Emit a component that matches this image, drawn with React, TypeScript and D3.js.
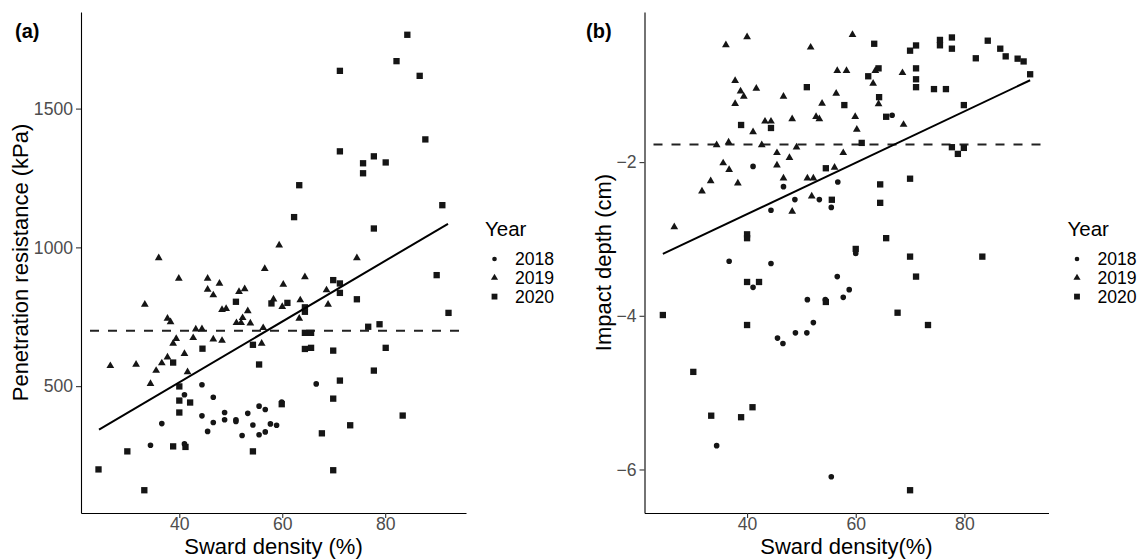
import React, { useEffect, useRef } from 'react';
import * as d3 from 'd3';

type Pt = [number, number];

// (a) sward density (%) vs penetration resistance (kPa)
const resist2018: Pt[] = [
  [44.4, 505], [41.0, 469], [46.6, 460], [48.8, 405], [44.4, 393], [46.6, 369], [36.6, 365],
  [48.8, 379], [51.0, 379], [51.0, 373], [53.3, 402], [55.5, 428], [56.7, 416], [45.5, 337],
  [54.3, 360], [57.7, 364], [58.9, 359], [52.2, 322], [55.5, 325], [56.7, 335], [59.9, 443],
  [34.4, 287], [41.0, 292], [66.6, 508]
];
const resist2019: Pt[] = [
  [36.0, 962], [39.9, 888], [45.5, 888], [47.8, 870], [45.5, 848], [46.6, 828], [33.3, 794],
  [51.6, 840], [52.7, 850], [48.3, 775], [49.1, 779], [53.3, 771], [52.3, 746], [51.1, 728],
  [52.0, 728], [53.8, 727], [37.7, 744], [38.3, 731], [43.2, 705], [44.4, 706], [56.3, 710],
  [56.6, 923], [59.4, 1008], [60.2, 866], [58.3, 813], [60.0, 786], [63.5, 810], [64.4, 893],
  [63.3, 744], [39.4, 671], [38.8, 654], [42.7, 674], [46.6, 669], [48.3, 664], [56.0, 654],
  [41.0, 617], [37.7, 604], [26.6, 573], [31.6, 578], [36.6, 583], [35.5, 556], [41.6, 551],
  [34.4, 509], [74.5, 962], [68.6, 846], [68.9, 794]
];
const resist2020: Pt[] = [
  [84.3, 1766], [82.2, 1671], [71.2, 1636], [86.7, 1618], [87.8, 1389], [71.2, 1346], [77.8, 1328],
  [75.7, 1303], [80.1, 1306], [75.7, 1267], [63.3, 1224], [62.3, 1109], [91.1, 1152], [77.8, 1068],
  [90.0, 900], [69.9, 882], [71.2, 870], [71.2, 836], [74.5, 813], [61.0, 800], [64.4, 784],
  [64.4, 768], [92.3, 764], [76.7, 714], [78.9, 723], [64.4, 692], [65.6, 692], [64.4, 634],
  [65.6, 638], [69.9, 628], [80.1, 638], [77.8, 556], [71.2, 520], [69.9, 455], [83.4, 394],
  [73.2, 359], [67.7, 330], [69.9, 197], [51.0, 804], [57.9, 798], [44.5, 635], [54.3, 649],
  [38.8, 585], [55.5, 578], [40.0, 499], [40.0, 448], [42.1, 441], [40.0, 405], [59.9, 435],
  [38.8, 283], [41.2, 281], [29.9, 265], [54.3, 265], [24.3, 200], [33.2, 125]
];
const resistFit: Pt[] = [[24.4, 343], [92.2, 1085]];
const resistThreshold = 700;

// (b) sward density (%) vs impact depth (cm)
const depth2018: Pt[] = [
  [41.1, -2.056], [46.7, -2.32], [56.7, -2.259], [48.8, -2.488], [53.3, -2.488], [55.5, -2.59],
  [44.4, -2.626], [36.7, -3.29], [44.4, -3.32], [60.0, -3.19], [56.6, -3.49], [41.1, -3.63],
  [58.8, -3.66], [57.7, -3.76], [51.1, -3.79], [54.4, -3.79], [52.2, -4.088], [48.9, -4.222],
  [51.0, -4.222], [45.6, -4.29], [46.6, -4.36], [34.4, -5.69], [55.5, -6.095], [66.7, -1.39]
];
const depth2019: Pt[] = [
  [36.1, -0.476], [40.0, -0.373], [51.7, -0.507], [59.4, -0.343], [37.8, -0.942], [38.8, -1.077],
  [39.4, -1.146], [41.7, -1.042], [37.8, -1.24], [46.7, -1.146], [56.6, -0.81], [58.3, -0.81],
  [63.6, -0.81], [56.4, -1.107], [53.8, -1.236], [63.2, -0.977], [64.2, -1.245], [43.3, -1.47],
  [44.4, -1.47], [41.1, -1.608], [48.3, -1.44], [52.7, -1.41], [53.3, -1.44], [59.9, -1.41],
  [60.2, -1.577], [34.4, -1.776], [36.6, -1.741], [42.7, -1.776], [49.1, -1.806], [45.5, -1.88],
  [47.8, -1.944], [57.7, -1.88], [35.6, -2.013], [45.5, -2.04], [36.7, -2.10], [56.1, -2.07],
  [33.3, -2.246], [31.7, -2.38], [38.3, -2.276], [46.7, -2.211], [51.1, -2.211], [52.2, -2.211],
  [51.9, -2.444], [48.3, -2.643], [26.6, -2.845], [68.6, -0.839], [68.8, -1.512]
];
const depth2020: Pt[] = [
  [63.4, -0.46], [64.2, -0.78], [62.3, -0.883], [51.0, -1.025], [57.9, -1.258], [64.3, -1.155],
  [38.9, -1.517], [44.4, -1.556], [61.1, -1.75], [54.5, -2.08], [55.6, -2.49], [40.0, -2.94],
  [40.0, -2.99], [60.0, -3.13], [64.5, -2.29], [64.5, -2.53], [40.0, -3.56], [42.2, -3.56],
  [54.5, -3.82], [24.5, -3.99], [40.0, -4.12], [30.1, -4.73], [41.0, -5.19], [33.4, -5.30],
  [38.9, -5.32], [71.1, -0.482], [70.0, -0.55], [75.5, -0.41], [75.5, -0.48], [77.7, -0.378],
  [77.7, -0.524], [84.3, -0.42], [86.6, -0.524], [87.6, -0.624], [89.8, -0.654], [90.9, -0.69],
  [92.1, -0.857], [82.1, -0.649], [71.1, -0.78], [71.1, -0.922], [71.1, -1.025], [74.4, -1.05],
  [76.6, -1.05], [65.6, -1.41], [79.9, -1.258], [77.7, -1.806], [79.9, -1.815], [78.8, -1.893],
  [70.0, -2.216], [65.6, -2.99], [70.0, -3.23], [83.3, -3.23], [71.1, -3.49], [67.7, -3.96],
  [73.3, -4.12], [70.0, -6.27]
];
const depthFit: Pt[] = [[24.5, -3.195], [92.1, -0.935]];
const depthThreshold = -1.77;

const years = ['2018', '2019', '2020'];
const xTicks = [40, 60, 80];
const resistTicks = [500, 1000, 1500];
const depthTicks = [-6, -4, -2];

const FONT = "'Liberation Sans', Arial, Helvetica, sans-serif";
const shapes = [d3.symbolCircle, d3.symbolTriangle, d3.symbolSquare];
const shapeSize = [25, 26, 40];

// ggplot style 5% expansion
const expand = (vals: number[]): [number, number] => {
  const [lo, hi] = d3.extent(vals) as [number, number];
  const pad = (hi - lo) * 0.05;
  return [lo - pad, hi + pad];
};

const App = () => {
  const ref = useRef<SVGSVGElement>(null);

  useEffect(() => {
    const svg = d3.select(ref.current);
    svg.selectAll('*').remove();

    const drawPanel = (opts: {
      series: Pt[][]; fit: Pt[]; threshold: number; yTicks: number[];
      left: number; right: number; letter: string; letterX: number;
      yTitle: string; yTitleX: number; xTitle: string; legendX: number;
    }) => {
      const top = 12;
      const bottom = 513;
      const all = opts.series.flat();
      const x = d3.scaleLinear().domain(expand(all.map(d => d[0]))).range([opts.left, opts.right]);
      const y = d3.scaleLinear().domain(expand(all.map(d => d[1]))).range([bottom, top]);
      const fmt = d3.format('d');

      const g = svg.append('g');

      // x axis
      const xAxis = g.append('g')
        .attr('transform', `translate(0,${bottom})`)
        .call(d3.axisBottom(x).tickValues(xTicks).tickFormat(fmt)
          .tickSize(5).tickSizeOuter(0).tickPadding(0));
      // y axis
      const yAxis = g.append('g')
        .attr('transform', `translate(${opts.left},0)`)
        .call(d3.axisLeft(y).tickValues(opts.yTicks).tickFormat(fmt)
          .tickSize(5).tickSizeOuter(0).tickPadding(3));

      [xAxis, yAxis].forEach(a => {
        a.select('.domain').attr('stroke', '#000').attr('stroke-width', 1.1);
        a.selectAll('.tick line').attr('stroke', '#333').attr('stroke-width', 1.1);
        a.selectAll('.tick text')
          .attr('fill', '#4d4d4d')
          .style('font-size', '17.6px')
          .style('font-family', FONT);
      });

      // threshold
      g.append('line')
        .attr('x1', opts.left).attr('x2', opts.right)
        .attr('y1', y(opts.threshold)).attr('y2', y(opts.threshold))
        .attr('stroke', '#222').attr('stroke-width', 2)
        .attr('stroke-dasharray', '9,9')
        .attr('stroke-dashoffset', -9);

      // points
      opts.series.forEach((pts, i) => {
        g.selectAll(`.pt${i}`)
          .data(pts)
          .enter().append('path')
          .attr('class', `pt${i}`)
          .attr('d', d3.symbol().type(shapes[i]).size(shapeSize[i])())
          .attr('transform', d => `translate(${x(d[0])},${y(d[1])})`)
          .attr('fill', '#151515');
      });

      // fitted line
      const line = d3.line<Pt>().x(d => x(d[0])).y(d => y(d[1]));
      g.append('path')
        .attr('d', line(opts.fit))
        .attr('fill', 'none')
        .attr('stroke', '#000')
        .attr('stroke-width', 2);

      // panel letter
      g.append('text')
        .attr('x', opts.letterX).attr('y', 38)
        .style('font-family', FONT).style('font-size', '20px').style('font-weight', 'bold')
        .text(opts.letter);

      // axis titles
      g.append('text')
        .attr('x', (opts.left + opts.right) / 2).attr('y', 553.5)
        .attr('text-anchor', 'middle')
        .style('font-family', FONT).style('font-size', '22px')
        .text(opts.xTitle);

      g.append('text')
        .attr('transform', `translate(${opts.yTitleX},${(top + bottom) / 2}) rotate(-90)`)
        .attr('text-anchor', 'middle')
        .style('font-family', FONT).style('font-size', '22px')
        .text(opts.yTitle);

      // legend
      const lg = g.append('g').attr('transform', `translate(${opts.legendX},0)`);
      lg.append('text')
        .attr('x', 0).attr('y', 236)
        .style('font-family', FONT).style('font-size', '20.5px')
        .text('Year');
      years.forEach((yr, i) => {
        const cy = 259 + i * 18.8;
        lg.append('path')
          .attr('d', d3.symbol().type(shapes[i]).size(i === 0 ? 17 : shapeSize[i] * 0.85)())
          .attr('transform', `translate(9.5,${cy})`)
          .attr('fill', '#151515');
        lg.append('text')
          .attr('x', 30).attr('y', cy + 6.3)
          .style('font-family', FONT).style('font-size', '17.6px')
          .text(yr);
      });
    };

    drawPanel({
      series: [resist2018, resist2019, resist2020], fit: resistFit, threshold: resistThreshold,
      yTicks: resistTicks, left: 81, right: 466, letter: '(a)', letterX: 15,
      yTitle: 'Penetration resistance (kPa)', yTitleX: 28, xTitle: 'Sward density (%)', legendX: 485
    });
    drawPanel({
      series: [depth2018, depth2019, depth2020], fit: depthFit, threshold: depthThreshold,
      yTicks: depthTicks, left: 644.5, right: 1048.5, letter: '(b)', letterX: 586,
      yTitle: 'Impact depth (cm)', yTitleX: 611, xTitle: 'Sward density(%)', legendX: 1067.5
    });
  }, []);

  return (
    <svg ref={ref} width={1138} height={559}
      style={{ position: 'absolute', left: 0, top: 0, background: '#fff' }} />
  );
};

export default App;
